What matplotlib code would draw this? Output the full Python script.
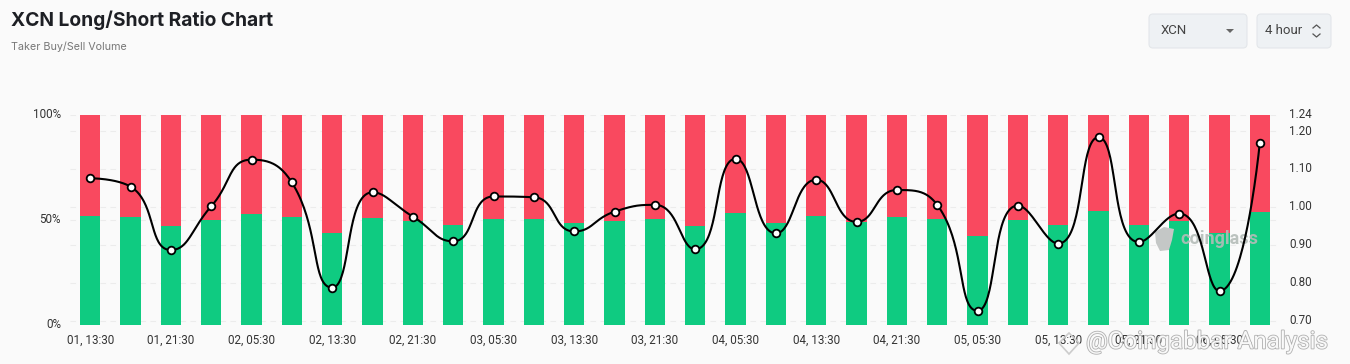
import numpy as np
import matplotlib
matplotlib.use("Agg")
import matplotlib.pyplot as plt
from matplotlib.patches import FancyBboxPatch, Polygon
from matplotlib.transforms import ScaledTranslation
import matplotlib.patheffects as pe

categories = ["01, 13:30","01, 17:30","01, 21:30","02, 01:30","02, 05:30","02, 09:30",
              "02, 13:30","02, 17:30","02, 21:30","03, 01:30","03, 05:30","03, 09:30",
              "03, 13:30","03, 17:30","03, 21:30","04, 01:30","04, 05:30","04, 09:30",
              "04, 13:30","04, 17:30","04, 21:30","05, 01:30","05, 05:30","05, 09:30",
              "05, 13:30","05, 17:30","05, 21:30","06, 01:30","06, 05:30","06, 09:30"]
long_pct = [51.9,51.3,47.1,50.2,53.0,51.6,44.0,51.0,49.4,47.6,
            50.6,50.6,48.4,49.7,50.3,47.1,53.2,48.4,51.7,49.2,
            51.3,50.3,42.2,50.2,47.6,54.1,47.6,49.7,43.7,54.0]
ratio = [1.076,1.054,0.887,1.002,1.125,1.065,0.788,1.039,0.975,0.910,
         1.028,1.026,0.936,0.988,1.006,0.889,1.127,0.931,1.072,0.961,
         1.045,1.006,0.727,1.004,0.904,1.184,0.908,0.983,0.779,1.170]
right_ticks = [0.70,0.80,0.90,1.00,1.10,1.20]
right_top = 1.2426
right_bottom = 0.6895
left_ticks = [0,50,100]

BG = "#fafafa"; RED = "#f9495f"; GREEN = "#0fcb81"; TXT = "#333333"
W, H = 1350, 364
fig = plt.figure(figsize=(W/100, H/100), dpi=100, facecolor=BG)
plt.rcParams["font.family"] = ["Roboto", "DejaVu Sans"]

ov = fig.add_axes([0, 0, 1, 1], facecolor="none", zorder=10)
ov.set_xlim(0, W); ov.set_ylim(H, 0); ov.axis("off")

L, R, T, B = 70, 1280, 115, 325
ax = fig.add_axes([L/W, 1-B/H, (R-L)/W, (B-T)/H], facecolor="none")
x = np.arange(len(categories))
short_pct = [100-v for v in long_pct]
ax.set_xlim(-0.5, len(x)-0.5); ax.set_ylim(0, 100)
ax.bar(x, long_pct, width=0.496, color=GREEN, zorder=2)
ax.bar(x, short_pct, bottom=long_pct, width=0.496, color=RED, zorder=2)
for s in ax.spines.values():
    s.set_visible(False)
ax.set_yticks(left_ticks); ax.set_yticklabels([f"{v}%" for v in left_ticks], fontsize=8.4, color=TXT)
ax.set_xticks(x[::2]); ax.set_xticklabels(categories[::2], fontsize=8.4, color=TXT)
ax.tick_params(length=0, pad=6)
ax.tick_params(axis="y", pad=6.5)

ax2 = ax.twinx()
ax2.set_ylim(right_bottom, right_top)
for s in ax2.spines.values():
    s.set_visible(False)
ax2.set_yticks(right_ticks + [right_top])
ax2.set_yticklabels([f"{v:.2f}" for v in right_ticks] + ["1.24"], fontsize=8.4, color=TXT)
ax2.tick_params(length=0, pad=6.5)

up = ScaledTranslation(0, 1.2/72, fig.dpi_scale_trans)
for lab in ax.get_yticklabels() + ax2.get_yticklabels():
    lab.set_transform(lab.get_transform() + up)

# gridlines sit behind the bars; they follow the right-hand scale
for v in right_ticks + [right_top]:
    pos = (v - right_bottom) / (right_top - right_bottom) * 100
    ax.axhline(pos, color="#ececec", lw=0.8, ls=(0, (5, 4)), zorder=0)
ax.axhline(50, color="#ececec", lw=0.8, ls=(0, (5, 4)), zorder=0)

# ECharts-style smoothing, worked out in pixel space with clamped control points
px_x = x * (R-L) / len(x)
px_y = np.array(ratio) * (B-T) / (right_top-right_bottom)
pts = np.column_stack([px_x, px_y])
smooth = 0.5
n = len(pts)
cp_out = pts.copy(); cp_in = pts.copy()
for i in range(1, n-1):
    p, c, nx = pts[i-1], pts[i], pts[i+1]
    l0 = np.hypot(*(c-p)); l1 = np.hypot(*(nx-c))
    r = l1/(l0+l1)
    o = c + (nx-p)*smooth*r
    o = np.clip(o, np.minimum(nx, c), np.maximum(nx, c))
    v = o-c
    a = c - v*l0/l1
    a = np.clip(a, np.minimum(p, c), np.maximum(p, c))
    v = c-a
    o = c + v*l1/l0
    cp_in[i] = a; cp_out[i] = o
t = np.linspace(0, 1, 40)[:, None]
seg = []
for i in range(n-1):
    seg.append((1-t)**3*pts[i] + 3*(1-t)**2*t*cp_out[i] + 3*(1-t)*t**2*cp_in[i+1] + t**3*pts[i+1])
seg = np.vstack(seg)
curve_x = seg[:, 0] * len(x) / (R-L)
curve_y = seg[:, 1] * (right_top-right_bottom) / (B-T)
ax2.plot(curve_x, curve_y, color="black", lw=1.5, zorder=4, solid_capstyle="round")
ax2.plot(x, ratio, ls="none", marker="o", ms=5.5, mfc="white", mec="black", mew=1.3, zorder=5)

# coinglass watermark, beneath the line
ax2.text(1180, 239, "coinglass", fontsize=13, fontweight="bold", color="#b4bcb8", alpha=0.9,
         va="center", ha="left", zorder=3, transform=ov.transData, clip_on=False)
ax2.add_patch(Polygon([[1155, 232], [1164, 227], [1174, 229], [1172, 240], [1169, 250], [1160, 251], [1156, 243]],
                      fc="#c4c7c6", ec="none", zorder=3, transform=ov.transData, clip_on=False))

# page furniture in pixel coordinates
ov.text(11, 20, "XCN Long/Short Ratio Chart", fontsize=13.85, fontweight="bold",
        family=["Inter", "DejaVu Sans"], color="#1d1f24", va="center", ha="left")
ov.text(11, 46.5, "Taker Buy/Sell Volume", fontsize=7.75, family=["Inter", "DejaVu Sans"],
        color="#777777", va="center", ha="left")

for (bx, bw) in [(1149, 98), (1257, 74)]:
    ov.add_patch(FancyBboxPatch((bx+3, 14+3), bw-6, 34-6, boxstyle="round,pad=3,rounding_size=4",
                                fc="#eef1f4", ec="#e3e6ea", lw=0.8))
ov.text(1161, 30, "XCN", fontsize=9.5, color="#444444", va="center", ha="left")
ov.add_patch(Polygon([[1226, 29], [1234, 29], [1230, 33]], fc="#666666", ec="none"))
ov.text(1265, 30, "4 hour", fontsize=9.5, color="#444444", va="center", ha="left")
ov.plot([1313, 1316.5, 1320], [28, 25, 28], color="#555555", lw=0.9)
ov.plot([1313, 1316.5, 1320], [34, 37, 34], color="#555555", lw=0.9)

halo = [pe.withStroke(linewidth=1.2, foreground="#a8a8a8")]
ov.text(1086, 342, "@Coingabbar Analysis", fontsize=17.4, color="white", alpha=0.9,
        va="center", ha="left", path_effects=halo, zorder=7)
ov.add_patch(Polygon([[1059, 343], [1069, 333], [1079, 343], [1069, 354]], fc="none", ec="#cccccc", lw=1.2, zorder=7))

fig.savefig("out.png", dpi=100, facecolor=BG)
